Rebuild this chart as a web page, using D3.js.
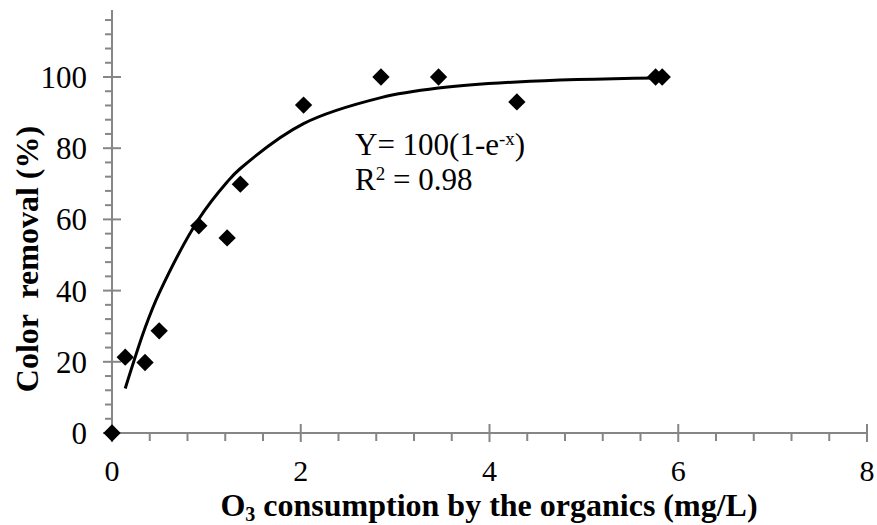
<!DOCTYPE html>
<html>
<head>
<meta charset="utf-8">
<script src="https://cdn.jsdelivr.net/npm/d3@7"></script>
<style>
  body { margin: 0; background: #fff; }
</style>
</head>
<body>
<svg id="chart" width="877" height="525"></svg>
<script>
// measured points
var ozoneX = [0, 0.14, 0.35, 0.50, 0.92, 1.22, 1.36, 2.03, 2.85, 3.46, 4.29, 5.76, 5.83];
var removalY = [0, 21.3, 19.8, 28.7, 58.2, 54.8, 69.9, 92.1, 100, 100, 93, 100, 100];

// fitted curve
var fitX = [0.14, 0.35, 0.50, 0.92, 1.22, 1.36, 2.03, 2.85, 3.46, 4.29, 5.76, 5.83];
var fitY = [12.5, 29.5, 39.3, 60.1, 70.5, 74.3, 86.9, 94.2, 96.9, 98.6, 99.7, 99.7];

var xTicks = [0, 2, 4, 6, 8];
var yTicks = [0, 20, 40, 60, 80, 100];

var serif = "'Liberation Serif', 'Times New Roman', serif";

var svg = d3.select("#chart");

var x = d3.scaleLinear().domain([0, 8]).range([112, 867]);
var y = d3.scaleLinear().domain([0, 100]).range([433, 77]);

var axisColor = "#868686";

var g = svg.append("g");

// y axis
g.append("line")
    .attr("x1", x(0)).attr("x2", x(0))
    .attr("y1", y(0)).attr("y2", y(118.8))
    .attr("stroke", axisColor).attr("stroke-width", 2);

g.selectAll(".yminor")
    .data(d3.range(0, 117, 4).filter(function(v) { return v % 20 != 0; }))
    .enter().append("line")
    .attr("x1", x(0) - 7).attr("x2", x(0))
    .attr("y1", function(d) { return y(d); })
    .attr("y2", function(d) { return y(d); })
    .attr("stroke", axisColor).attr("stroke-width", 2);

g.selectAll(".ymajor")
    .data(yTicks)
    .enter().append("line")
    .attr("x1", x(0) - 9).attr("x2", x(0) + 9)
    .attr("y1", function(d) { return y(d); })
    .attr("y2", function(d) { return y(d); })
    .attr("stroke", axisColor).attr("stroke-width", 2);

g.selectAll(".ylab")
    .data(yTicks)
    .enter().append("text")
    .attr("x", 87)
    .attr("y", function(d) { return y(d) + 11; })
    .attr("text-anchor", "end")
    .attr("font-family", serif)
    .attr("font-size", 31)
    .text(function(d) { return d; });

// x axis
g.append("line")
    .attr("x1", x(0)).attr("x2", x(8))
    .attr("y1", y(0)).attr("y2", y(0))
    .attr("stroke", axisColor).attr("stroke-width", 2);

g.selectAll(".xminor")
    .data(d3.range(0.4, 8, 0.4).filter(function(v) { return Math.abs(v / 2 - Math.round(v / 2)) > 0.01; }))
    .enter().append("line")
    .attr("x1", function(d) { return x(d); })
    .attr("x2", function(d) { return x(d); })
    .attr("y1", y(0)).attr("y2", y(0) + 8)
    .attr("stroke", axisColor).attr("stroke-width", 2);

g.selectAll(".xmajor")
    .data(xTicks)
    .enter().append("line")
    .attr("x1", function(d) { return x(d); })
    .attr("x2", function(d) { return x(d); })
    .attr("y1", y(0) - 9).attr("y2", y(0) + 9)
    .attr("stroke", axisColor).attr("stroke-width", 2);

g.selectAll(".xlab")
    .data(xTicks)
    .enter().append("text")
    .attr("x", function(d) { return x(d); })
    .attr("y", 481)
    .attr("text-anchor", "middle")
    .attr("font-family", serif)
    .attr("font-size", 30)
    .text(function(d) { return d; });

// fitted line
var line = d3.line()
    .x(function(d) { return x(d[0]); })
    .y(function(d) { return y(d[1]); })
    .curve(d3.curveCatmullRom.alpha(0.5));

g.append("path")
    .datum(d3.zip(fitX, fitY))
    .attr("d", line)
    .attr("fill", "none")
    .attr("stroke", "#000")
    .attr("stroke-width", 3);

// markers
var diamond = d3.symbol().type(d3.symbolSquare).size(150);
g.selectAll(".pt")
    .data(d3.zip(ozoneX, removalY))
    .enter().append("path")
    .attr("d", diamond)
    .attr("transform", function(d) { return "translate(" + x(d[0]) + "," + y(d[1]) + ") rotate(45)"; })
    .attr("fill", "#000");

// equation
var eq = svg.append("text").attr("x", 355).attr("y", 155)
    .attr("font-family", serif).attr("font-size", 31);
eq.append("tspan").text("Y= 100(1-e");
eq.append("tspan").attr("dy", -10).attr("font-size", 19).text("-x");
eq.append("tspan").attr("dy", 10).text(")");

var r2 = svg.append("text").attr("x", 355).attr("y", 190)
    .attr("font-family", serif).attr("font-size", 31);
r2.append("tspan").text("R");
r2.append("tspan").attr("dy", -10).attr("font-size", 19).text("2");
r2.append("tspan").attr("dy", 10).text(" = 0.98");

// axis titles
var xt = svg.append("text")
    .attr("x", 489).attr("y", 516)
    .attr("text-anchor", "middle")
    .attr("font-family", serif)
    .attr("font-size", 32).attr("font-weight", "bold");
xt.append("tspan").text("O");
xt.append("tspan").attr("dy", 5).attr("font-size", 20).text("3");
xt.append("tspan").attr("dy", -5).text(" consumption by the organics (mg/L)");

svg.append("text")
    .attr("transform", "translate(38,259) rotate(-90)")
    .attr("text-anchor", "middle")
    .attr("font-family", serif)
    .attr("font-size", 32).attr("font-weight", "bold")
    .style("white-space", "pre")
    .text("Color  removal (%)");
</script>
</body>
</html>
